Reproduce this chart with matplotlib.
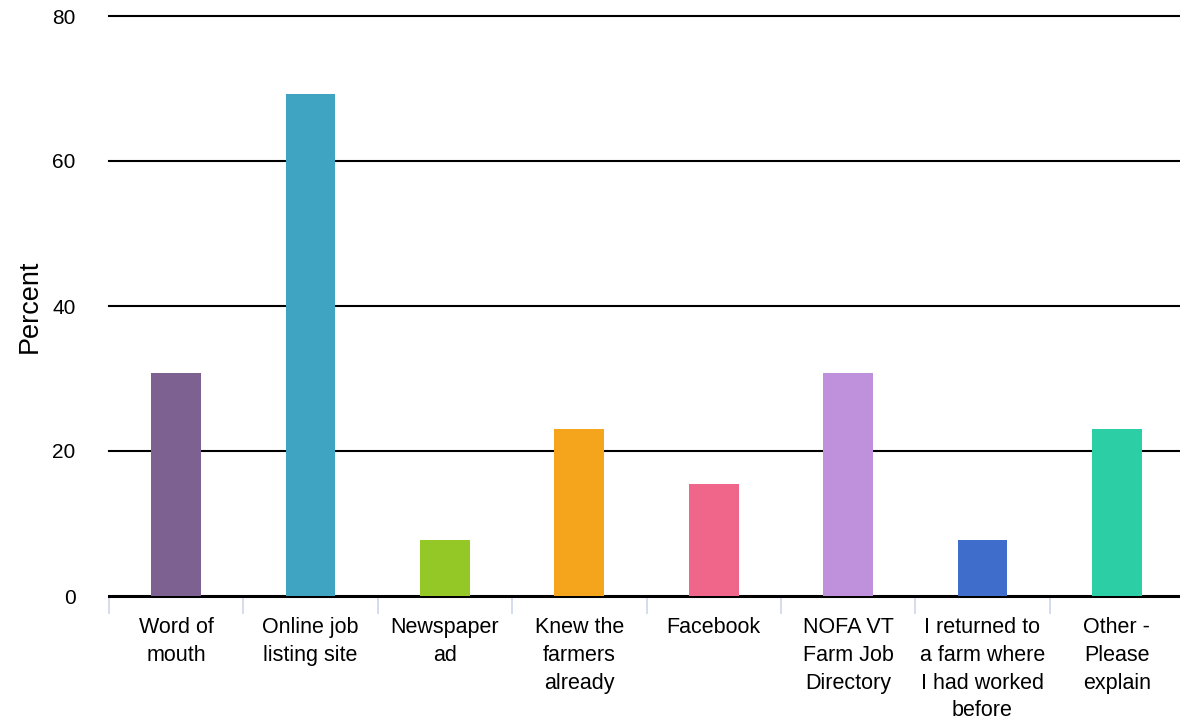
import matplotlib.pyplot as plt
import numpy as np

categories = ["Word of\nmouth", "Online job\nlisting site", "Newspaper\nad",
              "Knew the\nfarmers\nalready", "Facebook", "NOFA VT\nFarm Job\nDirectory",
              "I returned to\na farm where\nI had worked\nbefore", "Other -\nPlease\nexplain"]
percent = [30.77, 69.23, 7.69, 23.08, 15.38, 30.77, 7.69, 23.08]
colors = ["#7d6190", "#3fa4c2", "#94c826", "#f5a51b", "#f0668a",
          "#bf90db", "#3e6dcc", "#2ccfa5"]
yticks = [0, 20, 40, 60, 80]

plt.rcParams['font.family'] = ['Liberation Sans', 'DejaVu Sans']

fig = plt.figure(figsize=(11.8, 7.26), dpi=100)
ax = fig.add_axes([109 / 1180, 1 - 596 / 726, (1184 - 109) / 1180, 580 / 726])

x = np.arange(len(categories))
ax.bar(x, percent, width=0.37, color=colors, zorder=3)

ax.set_xlim(-0.5, len(categories) - 0.5)
ax.set_ylim(0, 80)
ax.set_yticks(yticks)
for t in yticks:
    ax.axhline(t, color="black", lw=1.5 if t else 2.2, zorder=2, clip_on=False)

ax.set_xticks(x)
ax.set_xticklabels(categories, fontsize=15.5, linespacing=1.43)
ax.set_xticks(np.arange(len(categories)) - 0.5, minor=True)
ax.tick_params(axis='x', which='major', length=0, pad=15)
ax.tick_params(axis='x', which='minor', length=13, color="#ccd6eb", width=1.2)
ax.tick_params(axis='y', length=0, pad=24, labelsize=15)

for s in ax.spines.values():
    s.set_visible(False)

ax.set_ylabel("Percent", fontsize=19.5)
ax.yaxis.set_label_coords(-0.062, 0.5)

fig.savefig("out.png", dpi=100)
